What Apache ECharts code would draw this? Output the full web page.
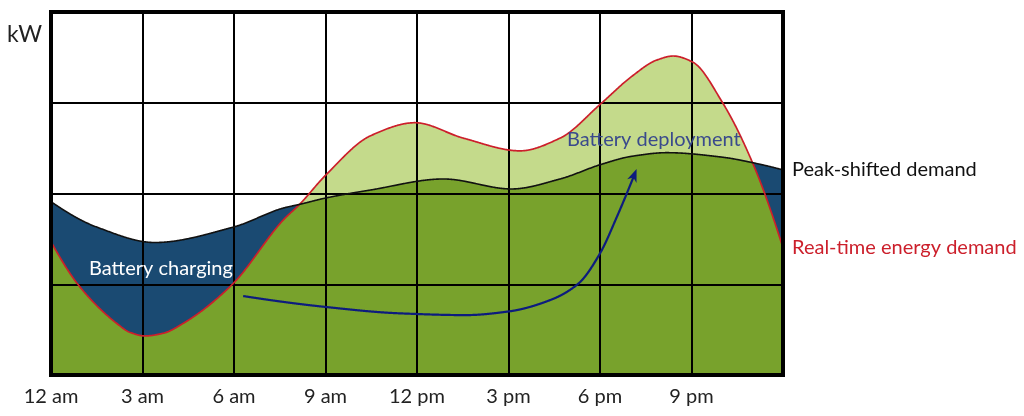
<!DOCTYPE html>
<html>
<head>
<meta charset="utf-8">
<script src="https://cdn.jsdelivr.net/npm/echarts@6/dist/echarts.min.js"></script>
<style>
html,body{margin:0;padding:0;background:#fff;}
#chart{width:1024px;height:416px;}
</style>
</head>
<body>
<div id="chart"></div>
<script>
// ---- data (hour of day, kW) ----
const realHours = [0, 0.95, 2.15, 2.59, 3.08, 3.68, 4.34, 5.92, 7.62, 8.15, 9.0, 10.5, 11.93, 13.52, 15.38, 16.69, 18.03, 19.04, 19.86, 20.4, 21.03, 22.02, 23.0, 24];
const realTime  = [1.47, 0.97, 0.57, 0.47, 0.43, 0.46, 0.57, 0.99, 1.71, 1.88, 2.20, 2.64, 2.78, 2.61, 2.47, 2.61, 2.99, 3.29, 3.47, 3.515, 3.45, 3.00, 2.34, 1.40];
const peakHours = [0, 1.5, 3.4, 5.98, 7.62, 8.15, 9.0, 10.5, 12.87, 15.1, 16.69, 18.03, 19.04, 20.19, 22.02, 23.0, 24];
const peakShifted = [1.91, 1.63, 1.46, 1.63, 1.84, 1.88, 1.95, 2.04, 2.16, 2.05, 2.16, 2.32, 2.41, 2.45, 2.40, 2.34, 2.26];
const tickLabels = ['12 am','3 am','6 am','9 am','12 pm','3 pm','6 pm','9 pm'];
const arrowHours = [6.3, 9.0, 11.4, 13.6, 15.0, 16.4, 17.3, 18.0, 18.55, 19.2];
const arrowKw    = [0.87, 0.75, 0.68, 0.66, 0.70, 0.83, 1.01, 1.34, 1.74, 2.27];
const seriesNames = ['Real-time energy demand', 'Peak-shifted demand'];

const FONT = 'Lato, "Open Sans", sans-serif';
const DARK = '#78a22c', LIGHT = '#c4da8b', BLUE = '#1a4a72', RED = '#cc1f2b', NAVY = '#0d1c7e';

// monotone cubic (Fritsch-Butland) curve through the read points, used only for drawing
function curve(xs, ys) {
  const n = xs.length, d = [], m = new Array(n);
  for (let i = 0; i < n - 1; i++) d.push((ys[i + 1] - ys[i]) / (xs[i + 1] - xs[i]));
  for (let i = 1; i < n - 1; i++) {
    if (d[i - 1] * d[i] <= 0) { m[i] = 0; continue; }
    const h0 = xs[i] - xs[i - 1], h1 = xs[i + 1] - xs[i];
    const w1 = 2 * h1 + h0, w2 = h1 + 2 * h0;
    m[i] = (w1 + w2) / (w1 / d[i - 1] + w2 / d[i]);
  }
  const endSlope = (h0, h1, d0, d1) => {
    let s = ((2 * h0 + h1) * d0 - h0 * d1) / (h0 + h1);
    if (s * d0 <= 0) s = 0; else if (d0 * d1 <= 0 && Math.abs(s) > Math.abs(3 * d0)) s = 3 * d0;
    return s;
  };
  m[0] = endSlope(xs[1] - xs[0], xs[2] - xs[1], d[0], d[1]);
  m[n - 1] = endSlope(xs[n - 1] - xs[n - 2], xs[n - 2] - xs[n - 3], d[n - 2], d[n - 3]);
  return x => {
    let i = 0;
    while (i < n - 2 && x > xs[i + 1]) i++;
    const h = xs[i + 1] - xs[i], t = Math.min(1, Math.max(0, (x - xs[i]) / h));
    const t2 = t * t, t3 = t2 * t;
    return (2 * t3 - 3 * t2 + 1) * ys[i] + (t3 - 2 * t2 + t) * h * m[i]
      + (-2 * t3 + 3 * t2) * ys[i + 1] + (t3 - t2) * h * m[i + 1];
  };
}
const realFn = curve(realHours, realTime);
const peakFn = curve(peakHours, peakShifted);
const arrowFn = curve(arrowHours, arrowKw);
const sampleRange = (a, b, step) => { const r = []; for (let x = a; x < b; x += step) r.push(x); r.push(b); return r; };
const xsDay = sampleRange(0, 24, 0.02);
const xsArrow = sampleRange(arrowHours[0], arrowHours[arrowHours.length - 1], 0.01);

const chart = echarts.init(document.getElementById('chart'), null, {renderer: 'canvas'});

const fillSeries = {
  type: 'custom', coordinateSystem: 'cartesian2d', silent: true, z: 2, data: [[0, 0]],
  renderItem: (params, api) => {
    const base = [api.coord([24, 0]), api.coord([0, 0])];
    const poly = (fn, fill) => ({type: 'polygon', shape: {points: xsDay.map(x => api.coord([x, fn(x)])).concat(base)}, style: {fill}});
    return {type: 'group', children: [
      poly(realFn, LIGHT),
      poly(peakFn, BLUE),
      poly(x => Math.min(realFn(x), peakFn(x)), DARK)
    ]};
  }
};

const lineSeries = {
  type: 'custom', coordinateSystem: 'cartesian2d', silent: true, z: 5, data: [[0, 0]],
  renderItem: (params, api) => {
    const line = (fn, stroke, w) => ({type: 'polyline', shape: {points: xsDay.map(x => api.coord([x, fn(x)]))},
      style: {stroke, lineWidth: w, fill: 'none'}});
    const label = (value, text, fill) => {
      const p = api.coord([24, value]);
      return {type: 'text', x: p[0] + 9, y: p[1], style: {text, fill, font: '20px ' + FONT, align: 'left', verticalAlign: 'middle'}};
    };
    return {type: 'group', children: [
      line(realFn, RED, 1.7),
      line(peakFn, '#111', 1.6),
      label(realTime[realTime.length - 1], seriesNames[0], RED),
      label(peakShifted[peakShifted.length - 1], seriesNames[1], '#111')
    ]};
  }
};

const arrowSeries = {
  type: 'custom', coordinateSystem: 'cartesian2d', silent: true, z: 6, data: [[0, 0]],
  renderItem: (params, api) => {
    const pts = xsArrow.map(x => api.coord([x, arrowFn(x)]));
    const tip = pts[pts.length - 1];
    const back = pts[pts.length - 6];
    let dx = tip[0] - back[0], dy = tip[1] - back[1];
    const L = Math.hypot(dx, dy); dx /= L; dy /= L;
    const nx = -dy, ny = dx, len = 13, half = 5, notch = 9;
    const head = [tip,
      [tip[0] - dx * len + nx * half, tip[1] - dy * len + ny * half],
      [tip[0] - dx * notch, tip[1] - dy * notch],
      [tip[0] - dx * len - nx * half, tip[1] - dy * len - ny * half]];
    const body = pts.filter(p => Math.hypot(p[0] - tip[0], p[1] - tip[1]) > 8);
    return {type: 'group', children: [
      {type: 'polyline', shape: {points: body}, style: {stroke: NAVY, lineWidth: 2.2, fill: 'none'}},
      {type: 'polygon', shape: {points: head}, style: {fill: NAVY}}
    ]};
  }
};

const option = {
  animation: false,
  backgroundColor: '#fff',
  grid: {left: 51, top: 12, width: 732, height: 363, show: true,
    borderColor: '#000', borderWidth: 4, backgroundColor: 'transparent', z: 10},
  xAxis: {type: 'value', min: 0, max: 24, interval: 3, z: 3,
    axisLine: {show: false}, axisTick: {show: false},
    splitLine: {show: true, lineStyle: {color: '#000', width: 2}},
    axisLabel: {color: '#222', fontSize: 20, fontFamily: FONT, margin: 12,
      formatter: v => tickLabels[Math.round(v / 3)] || ''}},
  yAxis: {type: 'value', min: 0, max: 4, interval: 1, z: 3,
    axisLine: {show: false}, axisTick: {show: false}, axisLabel: {show: false},
    splitLine: {show: true, lineStyle: {color: '#000', width: 2}}},
  series: [fillSeries, lineSeries, arrowSeries],
  graphic: [
    {type: 'text', left: 7, top: 23, style: {text: 'kW', fill: '#222', font: '23px ' + FONT}},
    {type: 'text', left: 89, top: 259, z: 20, style: {text: 'Battery charging', fill: '#fff', font: '20px ' + FONT}},
    {type: 'text', left: 567, top: 130, z: 20, style: {text: 'Battery deployment', fill: '#3a4a8c', font: '20px ' + FONT}}
  ]
};
chart.setOption(option);
</script>
</body>
</html>
